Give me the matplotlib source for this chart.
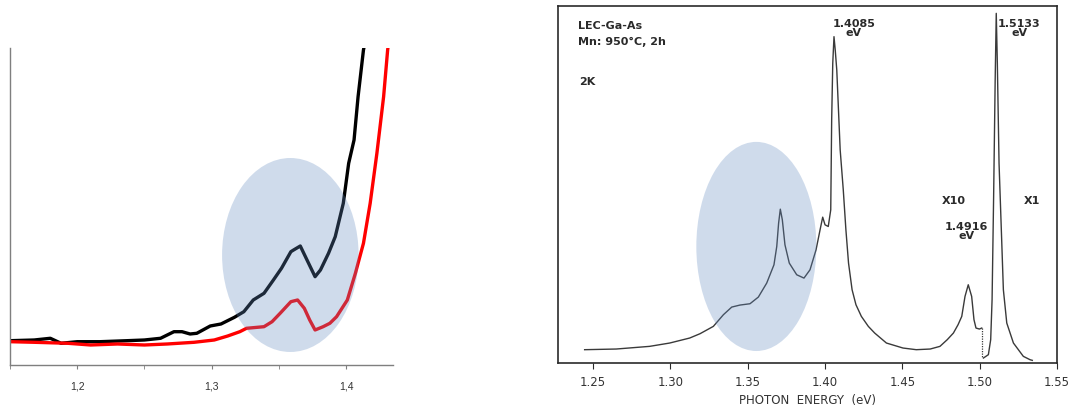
import matplotlib
matplotlib.use("Agg")
import matplotlib.pyplot as plt
from matplotlib.patches import Ellipse
from matplotlib.ticker import FixedLocator

# ---- left panel: absorption-like curves (arbitrary units) ----
black_x = [1.150, 1.168, 1.180, 1.188, 1.200, 1.217, 1.237, 1.250, 1.262, 1.272,
           1.278, 1.284, 1.289, 1.299, 1.307, 1.317, 1.324, 1.331, 1.339, 1.346,
           1.352, 1.359, 1.361, 1.366, 1.371, 1.377, 1.381, 1.387, 1.392, 1.398,
           1.402, 1.406, 1.409, 1.413, 1.414]
black_y = [24.3, 25.0, 26.7, 21.7, 23.3, 23.3, 24.3, 25.0, 26.7, 33.3,
           33.3, 31.0, 31.7, 39.0, 41.0, 47.7, 53.3, 65.0, 71.7, 85.0,
           96.7, 113.3, 115.0, 119.0, 105.0, 88.3, 95.0, 111.7, 128.3, 161.7,
           201.7, 225.0, 268.3, 315.0, 321.7]

red_x = [1.150, 1.168, 1.193, 1.210, 1.230, 1.250, 1.267, 1.287, 1.302, 1.312,
         1.321, 1.326, 1.339, 1.345, 1.351, 1.359, 1.364, 1.369, 1.373, 1.377,
         1.383, 1.388, 1.393, 1.401, 1.407, 1.413, 1.418, 1.423, 1.428, 1.431,
         1.432]
red_y = [23.3, 22.7, 21.7, 20.0, 21.0, 20.0, 21.0, 22.7, 25.0, 29.0,
         33.3, 36.7, 38.3, 43.3, 51.7, 63.3, 65.0, 56.7, 45.0, 35.0,
         38.3, 41.7, 48.3, 65.0, 91.7, 121.7, 161.7, 211.7, 268.3, 315.0,
         325.0]

left_ticks = [1.2, 1.3, 1.4]
left_ticklabels = ["1,2", "1,3", "1,4"]

# ---- right panel: PL spectrum LEC-GaAs (x10 part) ----
pl_x = [1.2446, 1.2650, 1.2866, 1.2996, 1.3125, 1.3192, 1.3278, 1.3343, 1.3397,
        1.3450, 1.3515, 1.3569, 1.3623, 1.3670, 1.3688, 1.3700, 1.3711, 1.3724,
        1.3741, 1.3769, 1.3817, 1.3864, 1.3903, 1.3942, 1.3968, 1.3985, 1.4000,
        1.4021, 1.4037, 1.4043, 1.4050, 1.4058, 1.4066, 1.4076, 1.4098, 1.4118,
        1.4135, 1.4152, 1.4175, 1.4200, 1.4235, 1.4280, 1.4321, 1.4397, 1.4504,
        1.4590, 1.4680, 1.4743, 1.4790, 1.4830, 1.4860, 1.4884, 1.4905, 1.4926,
        1.4948, 1.4963, 1.4976, 1.4998, 1.5013]
pl_y = [4.0, 4.2, 5.0, 6.0, 7.5, 8.8, 11.0, 14.5, 16.8,
        17.4, 17.8, 19.8, 24.0, 29.5, 35.0, 42.0, 46.2, 43.0,
        35.5, 30.0, 26.5, 25.5, 28.0, 34.0, 40.0, 43.8, 41.5,
        41.0, 46.0, 73.0, 90.0, 98.0, 94.0, 88.0, 64.0, 52.0,
        40.0, 30.0, 22.0, 17.5, 14.0, 11.0, 9.0, 6.0, 4.5,
        4.0, 4.2, 5.0, 7.0, 9.0, 11.5, 14.0, 20.0, 23.5,
        20.0, 13.0, 10.5, 10.2, 10.5]
# x1 part
pl2_x = [1.5024, 1.5056, 1.5071, 1.5080, 1.5090, 1.5100, 1.5107, 1.5114, 1.5125,
         1.5142, 1.5153, 1.5175, 1.5218, 1.5282, 1.5325, 1.5340]
pl2_y = [1.5, 2.5, 7.0, 19.0, 50.0, 85.0, 105.0, 90.0, 60.0,
         37.0, 22.0, 12.0, 6.0, 2.0, 1.0, 0.8]
gap_x = [1.5013, 1.5013]
gap_y = [10.5, 1.5]

right_ticks = [1.25, 1.30, 1.35, 1.40, 1.45, 1.50, 1.55]
right_ticklabels = ["1.25", "1.30", "1.35", "1.40", "1.45", "1.50", "1.55"]

shade = (98 / 255, 138 / 255, 192 / 255)

fig = plt.figure(figsize=(10.75, 4.12), dpi=100)

# left
ax1 = fig.add_axes([0.0093, 0.1141, 0.3563, 0.7694])
ax1.plot(black_x, black_y, color="black", lw=2.4, zorder=2)
ax1.plot(red_x, red_y, color="#ff0000", lw=2.4, zorder=2)
ax1.add_patch(Ellipse((1.3586, 110), 0.1016, 194, facecolor=shade,
                      alpha=0.3, edgecolor="none", zorder=3))
ax1.set_xlim(1.15, 1.435)
ax1.set_ylim(0, 317)
for s in ["top", "right"]:
    ax1.spines[s].set_visible(False)
for s in ["left", "bottom"]:
    ax1.spines[s].set_color("#7f7f7f")
    ax1.spines[s].set_linewidth(1.0)
ax1.set_yticks([])
ax1.set_xticks(left_ticks)
ax1.set_xticklabels(left_ticklabels, family="Liberation Sans", fontsize=7.5, color="#333333")
ax1.xaxis.set_minor_locator(FixedLocator([1.15, 1.25, 1.35]))
ax1.tick_params(axis="x", which="both", direction="out", length=3, color="#7f7f7f", pad=9)

# right
ax2 = fig.add_axes([0.5191, 0.1189, 0.4642, 0.8665])
ax2.plot(pl_x, pl_y, color="#3a3a3a", lw=1.0, zorder=2)
ax2.plot(pl2_x, pl2_y, color="#3a3a3a", lw=1.0, zorder=2)
ax2.plot(gap_x, gap_y, color="#3a3a3a", lw=0.9, ls=(0, (1, 1)), zorder=2)
ax2.add_patch(Ellipse((1.3556, 35), 0.0776, 62.8, facecolor=shade,
                      alpha=0.3, edgecolor="none", zorder=3))
ax2.set_xlim(1.2274, 1.55)
ax2.set_ylim(0, 107.2)
for s in ax2.spines.values():
    s.set_color("#2a2a2a")
    s.set_linewidth(1.2)
ax2.set_yticks([])
ax2.set_xticks(right_ticks)
ax2.set_xticklabels(right_ticklabels, fontsize=8.5, color="#333333")
ax2.tick_params(axis="x", direction="out", length=4, color="#2a2a2a", pad=5)
ax2.set_xlabel("PHOTON  ENERGY  (eV)", fontsize=8.5, color="#333333", labelpad=4)

tkw = dict(fontsize=8, color="#2a2a2a", fontweight="bold")
ax2.text(0.04, 0.945, "LEC-Ga-As", transform=ax2.transAxes, ha="left", va="center", **tkw)
ax2.text(0.04, 0.90, "Mn: 950°C, 2h", transform=ax2.transAxes, ha="left", va="center", **tkw)
ax2.text(0.043, 0.786, "2K", transform=ax2.transAxes, ha="left", va="center", **tkw)
ax2.text(1.4185, 100.5, "1.4085\neV", ha="center", va="center", linespacing=0.85, **tkw)
ax2.text(1.5256, 100.5, "1.5133\neV", ha="center", va="center", linespacing=0.85, **tkw)
ax2.text(1.4916, 39.5, "1.4916\neV", ha="center", va="center", linespacing=0.9, **tkw)
ax2.text(1.4835, 48.5, "X10", ha="center", va="center", **tkw)
ax2.text(1.5338, 48.5, "X1", ha="center", va="center", **tkw)

fig.savefig("out.png", dpi=100)
